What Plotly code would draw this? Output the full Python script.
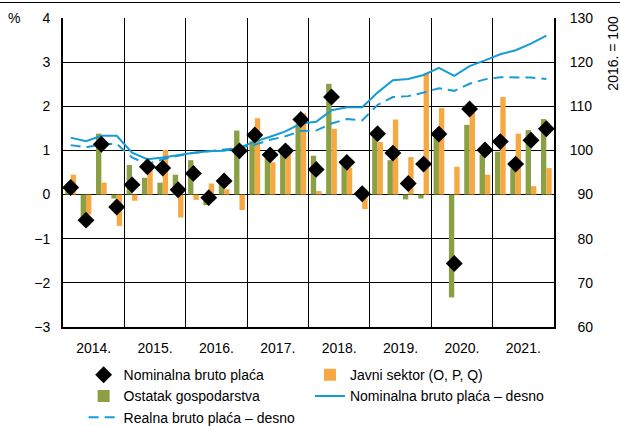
import plotly.graph_objects as go

quarters = list(range(32))
years = ["2014.", "2015.", "2016.", "2017.", "2018.", "2019.", "2020.", "2021."]
year_centers = [1.5 + 4 * i for i in range(8)]
year_bounds = [-0.5 + 4 * i for i in range(9)]

nominal_qoq = [0.16, -0.58, 1.14, -0.28,
               0.22, 0.63, 0.60, 0.11,
               0.48, -0.07, 0.31, 0.99,
               1.35, 0.90, 0.99, 1.70,
               0.57, 2.21, 0.73, 0.02,
               1.38, 0.94, 0.25, 0.69,
               1.37, -1.56, 1.94, 1.01,
               1.20, 0.69, 1.23, 1.49]

rest_economy = [0.10, -0.55, 1.38, -0.09,
                0.67, 0.38, 0.27, 0.45,
                0.78, -0.24, 0.30, 1.45,
                1.21, 0.87, 0.92, 1.60,
                0.88, 2.51, 0.69, 0.02,
                1.32, 0.78, -0.11, -0.09,
                1.30, -2.33, 1.58, 0.91,
                0.97, 0.59, 1.46, 1.71]

public_sector = [0.45, -0.45, 0.27, -0.71,
                 -0.14, 0.55, 1.01, -0.52,
                 -0.12, 0.25, 0.12, -0.35,
                 1.73, 0.73, 0.97, 1.84,
                 0.08, 1.49, 0.61, -0.33,
                 1.19, 1.70, 0.85, 2.75,
                 1.96, 0.63, 1.85, 0.45,
                 2.21, 1.38, 0.19, 0.60]

nominal_index = [102.9, 102.1, 103.3, 103.3,
                 99.5, 98.0, 98.4, 99.0,
                 99.5, 99.8, 99.9, 100.6,
                 102.0, 103.1, 104.3, 106.1,
                 106.5, 109.1, 109.8, 109.8,
                 113.1, 115.9, 116.2, 117.1,
                 118.7, 116.9, 119.1, 120.4,
                 121.8, 122.7, 124.2, 126.0]

real_index = [101.2, 100.7, 101.4, 101.5,
              98.4, 96.9, 98.0, 98.8,
              99.4, 99.8, 100.1, 100.6,
              101.3, 102.4, 103.2, 104.4,
              104.5, 106.1, 107.1, 106.8,
              110.3, 112.1, 112.3, 113.1,
              114.1, 113.5, 115.1, 116.1,
              116.6, 116.6, 116.5, 116.2]

left_ticks = [-3, -2, -1, 0, 1, 2, 3, 4]
right_ticks = [60, 70, 80, 90, 100, 110, 120, 130]
right_ticktext = [("\u2007" + str(v)) if v < 100 else str(v) for v in right_ticks]

GREEN = "#8BA044"
ORANGE = "#F6A942"
BLUE = "#179BD7"
FONT = "Liberation Sans, Arial, sans-serif"

fig = go.Figure()
fig.add_trace(go.Bar(x=quarters, y=rest_economy, name="Ostatak gospodarstva",
                     marker=dict(color=GREEN, line=dict(width=0)), legendrank=2,
                     legend="legend", yaxis="y"))
fig.add_trace(go.Bar(x=quarters, y=public_sector, name="Javni sektor (O, P, Q)",
                     marker=dict(color=ORANGE, line=dict(width=0)), legendrank=1,
                     legend="legend2", yaxis="y"))
fig.add_trace(go.Scatter(x=quarters, y=nominal_index, name="Nominalna bruto plaća – desno",
                         mode="lines", line=dict(color=BLUE, width=2), legendrank=2,
                         legend="legend2", yaxis="y2"))
fig.add_trace(go.Scatter(x=quarters, y=real_index, name="Realna bruto plaća – desno",
                         mode="lines", line=dict(color=BLUE, width=2, dash="10px,6px"),
                         legendrank=3, legend="legend", yaxis="y2"))
fig.add_trace(go.Scatter(x=quarters, y=nominal_qoq, name="Nominalna bruto plaća",
                         mode="markers",
                         marker=dict(symbol="diamond", size=13, color="black",
                                     line=dict(width=0)),
                         legendrank=1, legend="legend", yaxis="y3"))

legend_common = dict(orientation="v", xanchor="left", yanchor="top",
                     font=dict(size=14, family=FONT), traceorder="normal",
                     bgcolor="rgba(0,0,0,0)", tracegroupgap=0)

fig.update_layout(
    width=620, height=426,
    margin=dict(l=63, r=66, t=18, b=99, autoexpand=False),
    paper_bgcolor="white", plot_bgcolor="white",
    font=dict(family=FONT, size=14, color="black"),
    barmode="group", bargap=0.3, bargroupgap=0,
    showlegend=True,
    legend=dict(x=0.042, y=-0.104, **legend_common),
    legend2=dict(x=0.503, y=-0.104, **legend_common),
    xaxis=dict(range=[-0.5, 31.5], tickmode="array", tickvals=year_centers, ticktext=years,
               showgrid=False, zeroline=False, ticks="", showline=True, linecolor="black",
               linewidth=2, ticklabelstandoff=7,
               minor=dict(tickmode="array", tickvals=year_bounds, showgrid=True,
                          gridcolor="black", gridwidth=1, ticks="")),
    yaxis=dict(range=[-3, 4], tickmode="array", tickvals=left_ticks, showgrid=True,
               gridcolor="black", gridwidth=1, zeroline=False, showline=True,
               linecolor="black", linewidth=2, ticks="", ticklabelstandoff=8),
    yaxis2=dict(range=[60, 130], tickmode="array", tickvals=right_ticks,
                ticktext=right_ticktext, overlaying="y", side="right", showgrid=False,
                zeroline=False, showline=True, linecolor="black", linewidth=2, ticks="",
                ticklabelstandoff=11),
    yaxis3=dict(range=[-3, 4], overlaying="y", visible=False),
    annotations=[
        dict(text="%", xref="paper", yref="paper", x=-0.1, y=1.0, xanchor="center",
             yanchor="middle", showarrow=False, font=dict(size=14, family=FONT)),
        dict(text="2016. = 100", xref="paper", yref="paper", x=1.121, y=0.886,
             xanchor="center", yanchor="middle", textangle=-90, showarrow=False,
             font=dict(size=14, family=FONT)),
        dict(text=" ", xref="paper", yref="paper", x=0.503, y=1.05, xanchor="center",
             yanchor="middle", showarrow=False, width=620, height=1, borderpad=0,
             borderwidth=0, bgcolor="black", font=dict(size=1)),
    ],
)

fig.write_html("out.html", config={"displayModeBar": False},
               post_script="document.body.style.margin='0';")
